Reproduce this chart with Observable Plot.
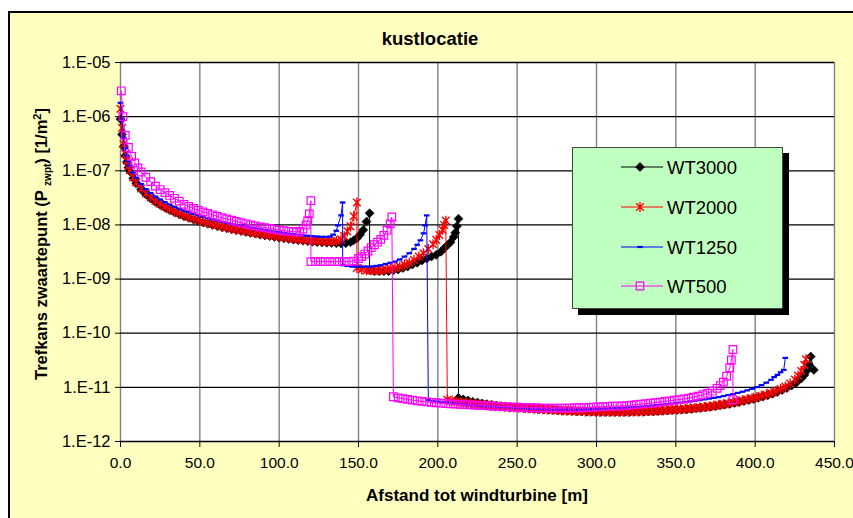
<!DOCTYPE html>
<html><head><meta charset="utf-8">
<script src="https://cdn.jsdelivr.net/npm/d3@7"></script>
<script src="https://cdn.jsdelivr.net/npm/@observablehq/plot@0.6"></script>
<style>
body{margin:0;background:#fff;}
#wrap{position:relative;width:853px;height:518px;overflow:hidden;font-family:'Liberation Sans',Arial,sans-serif;}
#bg{position:absolute;left:8px;top:11px;width:900px;height:600px;background:#FFFFC0;border:2px solid #000;}
#chart{position:absolute;left:0;top:0;}
#title{position:absolute;left:0;width:860px;top:29px;text-align:center;font-weight:bold;font-size:18.5px;line-height:20px;}
#legend{position:absolute;left:572px;top:147px;width:209px;height:160px;background:#BFFFBF;border:1px solid #444;box-shadow:6px 6px 0 #000;}
</style></head><body>
<div id="wrap"><div id="bg"></div><div id="chart"></div><div id="title">kustlocatie</div><div id="legend"></div></div>
<script>
// ---- data (x in m; segment 1 & 2 values in 1e-9 /m², segment 3 values in 1e-12 /m²) ----
const seriesNames = ["WT3000", "WT2000", "WT1250", "WT500"];
const seriesColors = ["#000000", "#FF0000", "#0000FF", "#FF00FF"];
const xTicks = [0, 50, 100, 150, 200, 250, 300, 350, 400, 450];
const yTicks = [1e-12, 1e-11, 1e-10, 1e-9, 1e-8, 1e-7, 1e-6, 1e-5];

const WT3000_s1 = [[0,900],[1,470],[2,280],[3,190],[4,145],[5,115],[6,97],[8,73],[10,58],[13,45],[16,36.5],[19,30.7],[22,26.5],[25,23.3],[28,20.8],[31,18.8],[34,17.1],[37,15.7],[40,14.5],[43,13.5],[46,12.6],[49,11.8],[52,11.1],[55,10.5],[58,10],[61,9.5],[64,9.1],[67,8.7],[70,8.3],[73,8],[76,7.7],[79,7.4],[82,7.1],[85,6.9],[88,6.6],[91,6.4],[94,6.2],[97,6.0],[100,5.8],[103,5.65],[106,5.5],[109,5.35],[112,5.2],[115,5.1],[118,5.0],[121,4.9],[124,4.8],[127,4.75],[130,4.7],[133,4.65],[136,4.6],[139,4.55],[142,4.6],[145,4.8],[147,5.2],[149,5.7],[151,6.6],[153,8.1],[155,11.5],[157,16.5]];
const WT3000_s2 = [[157,1.45],[160,1.4],[163,1.4],[166,1.4],[169,1.4],[172,1.45],[175,1.5],[178,1.6],[181,1.7],[184,1.85],[187,2.0],[190,2.2],[193,2.4],[196,2.6],[199,2.8],[202,3.2],[204,3.7],[206,4.2],[208,4.8],[210,6],[211,7.2],[212,9.5],[213,13]];
const WT3000_s3 = [[213,6.4],[216,6.0],[219,5.7],[222,5.45],[225,5.25],[228,5.05],[231,4.9],[234,4.75],[237,4.6],[240,4.5],[243,4.4],[246,4.3],[249,4.25],[252,4.2],[255,4.1],[258,4.05],[261,4.0],[264,3.95],[267,3.9],[270,3.85],[273,3.8],[276,3.75],[279,3.7],[282,3.7],[285,3.65],[288,3.6],[291,3.6],[294,3.55],[297,3.55],[300,3.5],[303,3.5],[306,3.5],[309,3.5],[312,3.5],[315,3.5],[318,3.5],[321,3.5],[324,3.55],[327,3.55],[330,3.55],[333,3.6],[336,3.6],[339,3.65],[342,3.7],[345,3.75],[348,3.8],[351,3.85],[354,3.9],[357,3.95],[360,4.0],[363,4.1],[366,4.2],[369,4.3],[372,4.4],[375,4.5],[378,4.65],[381,4.8],[384,4.95],[387,5.15],[390,5.35],[393,5.6],[396,5.85],[399,6.1],[402,6.4],[405,6.75],[408,7.15],[411,7.6],[414,8.2],[417,8.9],[420,9.7],[423,10.8],[426,12.3],[429,14.5],[431,17],[433,21],[434,26],[435,37],[437,21]];

const WT2000_s1 = [[0,1400],[1,620],[2,310],[3,205],[4,155],[5,122],[6,102],[8,76],[10,61],[13,47],[16,38],[19,32],[22,27.6],[25,24.3],[28,21.7],[31,19.6],[34,17.9],[37,16.4],[40,15.2],[43,14.1],[46,13.2],[49,12.4],[52,11.6],[55,11],[58,10.4],[61,9.9],[64,9.4],[67,9.0],[70,8.6],[73,8.3],[76,8.0],[79,7.7],[82,7.4],[85,7.15],[88,6.9],[91,6.7],[94,6.5],[97,6.3],[100,6.1],[103,5.95],[106,5.8],[109,5.65],[112,5.5],[115,5.4],[118,5.3],[121,5.2],[124,5.1],[127,5.05],[130,5.0],[133,5.0],[136,5.05],[139,5.4],[141,6.2],[143,7.6],[145,9.4],[147,14.5],[149,26]];
const WT2000_s2 = [[149,1.6],[152,1.5],[155,1.45],[158,1.45],[161,1.45],[164,1.45],[167,1.5],[170,1.55],[173,1.6],[176,1.7],[179,1.85],[182,2.0],[185,2.25],[188,2.6],[191,3.0],[194,3.6],[197,4.4],[199,5.3],[201,6.5],[203,8.1],[204,10],[205,12]];
const WT2000_s3 = [[206,5.9],[209,5.65],[212,5.45],[215,5.3],[218,5.15],[221,5.0],[224,4.9],[227,4.8],[230,4.7],[233,4.6],[236,4.5],[239,4.45],[242,4.4],[245,4.3],[248,4.25],[251,4.2],[254,4.15],[257,4.1],[260,4.05],[263,4.0],[266,3.95],[269,3.9],[272,3.85],[275,3.8],[278,3.75],[281,3.7],[284,3.7],[287,3.65],[290,3.65],[293,3.6],[296,3.6],[299,3.6],[302,3.55],[305,3.55],[308,3.55],[311,3.55],[314,3.55],[317,3.55],[320,3.55],[323,3.6],[326,3.6],[329,3.6],[332,3.65],[335,3.65],[338,3.7],[341,3.75],[344,3.8],[347,3.85],[350,3.9],[353,3.95],[356,4.0],[359,4.1],[362,4.15],[365,4.25],[368,4.35],[371,4.45],[374,4.6],[377,4.75],[380,4.9],[383,5.1],[386,5.3],[389,5.5],[392,5.75],[395,6.0],[398,6.3],[401,6.6],[404,7.0],[407,7.4],[410,7.9],[413,8.5],[416,9.3],[419,10.3],[422,11.8],[425,14],[427,16.5],[429,20],[431,26],[432,33]];

const WT1250_s1 = [[0,1800],[1,850],[2,410],[3,260],[4,190],[5,150],[6,125],[8,93],[10,74],[13,57],[16,46],[19,39],[22,33.5],[25,29.5],[28,26.3],[31,23.8],[34,21.6],[37,19.9],[40,18.4],[43,17.1],[46,16],[49,15],[52,14.1],[55,13.3],[58,12.6],[61,12],[64,11.4],[67,10.9],[70,10.4],[73,10],[76,9.6],[79,9.2],[82,8.9],[85,8.6],[88,8.3],[91,8.0],[94,7.8],[97,7.5],[100,7.3],[103,7.1],[106,6.9],[109,6.7],[112,6.55],[115,6.4],[118,6.3],[121,6.2],[124,6.1],[127,6.05],[130,6.0],[132,6.1],[134,6.6],[136,7.8],[137,9.8],[139,15],[140,26]];
const WT1250_s2 = [[140,1.8],[143,1.75],[146,1.7],[149,1.7],[152,1.7],[155,1.7],[158,1.7],[161,1.75],[164,1.8],[167,1.9],[170,2.0],[173,2.1],[176,2.3],[179,2.6],[182,3.0],[185,3.6],[187,4.3],[189,5.2],[191,7],[192,9.8],[193,15]];
const WT1250_s3 = [[194,5.8],[197,5.6],[200,5.45],[203,5.3],[206,5.2],[209,5.1],[212,5.0],[215,4.9],[218,4.8],[221,4.7],[224,4.6],[227,4.55],[230,4.5],[233,4.45],[236,4.4],[239,4.35],[242,4.3],[245,4.25],[248,4.2],[251,4.15],[254,4.1],[257,4.05],[260,4.0],[263,4.0],[266,3.95],[269,3.95],[272,3.9],[275,3.9],[278,3.9],[281,3.9],[284,3.9],[287,3.9],[290,3.9],[293,3.9],[296,3.95],[299,3.95],[302,4.0],[305,4.0],[308,4.05],[311,4.1],[314,4.15],[317,4.2],[320,4.25],[323,4.3],[326,4.35],[329,4.4],[332,4.5],[335,4.6],[338,4.7],[341,4.8],[344,4.9],[347,5.0],[350,5.1],[353,5.2],[356,5.35],[359,5.5],[362,5.65],[365,5.8],[368,6.0],[371,6.2],[374,6.4],[377,6.6],[380,6.9],[383,7.2],[386,7.5],[389,7.9],[392,8.3],[395,8.8],[398,9.4],[401,10.1],[404,11],[407,12.2],[410,13.8],[412,15.5],[414,17],[416,19],[418,21],[419,35]];

const WT500_s1 = [[0.5,3000],[1.5,1000],[3,450],[5,270],[7,185],[9,140],[11,113],[13,95],[16,76],[19,63],[22,52],[25,45],[28,39.5],[31,35],[34,31],[37,27.5],[40,24],[43,22],[46,20.2],[49,18.7],[52,17.4],[55,16.3],[58,15.3],[61,14.4],[64,13.6],[67,12.9],[70,12.2],[73,11.6],[76,11],[79,10.5],[82,10],[85,9.6],[88,9.2],[91,8.9],[94,8.6],[97,8.3],[100,8.0],[103,7.8],[106,7.6],[109,7.5],[111,7.4],[113,7.6],[115,8.4],[117,10],[118,12],[119,16],[120,28]];
const WT500_s2 = [[120,2.1],[123,2.1],[126,2.1],[129,2.1],[132,2.1],[135,2.1],[138,2.1],[141,2.1],[144,2.1],[147,2.15],[150,2.4],[152,2.6],[154,2.9],[156,3.3],[158,3.8],[160,4.3],[162,4.8],[164,5.4],[166,6.4],[168,8],[170,10.5],[171,14]];
const WT500_s3 = [[172,6.7],[175,6.4],[178,6.2],[181,6.0],[184,5.8],[187,5.65],[190,5.5],[193,5.4],[196,5.3],[199,5.2],[202,5.1],[205,5.0],[208,4.95],[211,4.9],[214,4.85],[217,4.8],[220,4.75],[223,4.7],[226,4.65],[229,4.6],[232,4.55],[235,4.5],[238,4.45],[241,4.4],[244,4.35],[247,4.3],[250,4.3],[253,4.25],[256,4.2],[259,4.2],[262,4.2],[265,4.15],[268,4.15],[271,4.15],[274,4.15],[277,4.15],[280,4.15],[283,4.15],[286,4.2],[289,4.2],[292,4.2],[295,4.25],[298,4.3],[301,4.35],[304,4.4],[307,4.45],[310,4.5],[313,4.5],[316,4.55],[319,4.6],[322,4.7],[325,4.8],[328,4.9],[331,5.0],[334,5.1],[337,5.2],[340,5.35],[343,5.5],[346,5.65],[349,5.8],[352,5.95],[355,6.1],[358,6.3],[361,6.6],[364,6.9],[367,7.3],[370,7.8],[373,8.5],[376,9.6],[378,10.8],[380,12.5],[382,16],[384,23],[385,32],[386,50],[386,5.9]];

const segments = {
  WT3000: [WT3000_s1, WT3000_s2, WT3000_s3],
  WT2000: [WT2000_s1, WT2000_s2, WT2000_s3],
  WT1250: [WT1250_s1, WT1250_s2, WT1250_s3],
  WT500:  [WT500_s1, WT500_s2, WT500_s3]
};
const segUnits = [1e-9, 1e-9, 1e-12];

function rowsOf(name) {
  const out = [];
  segments[name].forEach((seg, k) => seg.forEach(([x, v]) => out.push({x, y: v * segUnits[k]})));
  return out;
}

// ---- marker symbols (Excel-like) ----
const diamondSym = {draw(c){c.moveTo(0,-4.5);c.lineTo(4.5,0);c.lineTo(0,4.5);c.lineTo(-4.5,0);c.closePath();}};
const starSym = {draw(c){c.moveTo(-3.8,-3.8);c.lineTo(3.8,3.8);c.moveTo(-3.8,3.8);c.lineTo(3.8,-3.8);c.moveTo(0,-5);c.lineTo(0,5);}};
const dashSym = {draw(c){c.moveTo(-2.8,0);c.lineTo(2.8,0);}};
const squareSym = {draw(c){c.rect(-3.8,-3.8,7.6,7.6);}};
const symStyles = [
  {symbol: diamondSym, fill: "#000", stroke: "#000", strokeWidth: 0.6},
  {symbol: starSym, fill: "none", stroke: "#FF0000", strokeWidth: 1.4},
  {symbol: dashSym, fill: "none", stroke: "#0000FF", strokeWidth: 2.2},
  {symbol: squareSym, fill: "none", stroke: "#FF00FF", strokeWidth: 1.2}
];

const yFmt = d => "1.E-" + String(-Math.round(Math.log10(d))).padStart(2, "0");

const seriesMarks = [];
seriesNames.forEach((name, i) => {
  const rows = rowsOf(name);
  seriesMarks.push(Plot.line(rows, {x: "x", y: "y", stroke: seriesColors[i], strokeWidth: 1}));
  seriesMarks.push(Plot.dot(rows, {x: "x", y: "y", r: 4, ...symStyles[i]}));
});

const chart = Plot.plot({
  width: 853, height: 518,
  marginLeft: 120, marginRight: 19, marginTop: 62, marginBottom: 77,
  style: {fontFamily: "'Liberation Sans', Arial, sans-serif", fontSize: "16px", color: "#000", background: "transparent", overflow: "visible"},
  x: {domain: [0, 450]},
  y: {type: "log", domain: [1e-12, 1e-5]},
  marks: [
    Plot.frame({fill: "white", stroke: "none"}),
    Plot.ruleX(xTicks, {stroke: "#808080", strokeWidth: 1.4}),
    Plot.ruleY(yTicks, {stroke: "#000", strokeWidth: 1.3}),
    Plot.axisX({ticks: xTicks, tickFormat: d => d.toFixed(1), tickSize: 6, tickPadding: 9, fontSize: 15.5, label: null}),
    Plot.axisY({ticks: yTicks, tickFormat: yFmt, tickSize: 5, tickPadding: 5, fontSize: 16.5, label: null}),
    ...seriesMarks
  ]
});
document.getElementById("chart").appendChild(chart);

const svg = d3.select(chart);
// x-axis title
svg.append("text").attr("x", 477).attr("y", 501).attr("text-anchor", "middle")
  .attr("font-weight", "bold").attr("font-size", 17).text("Afstand tot windturbine [m]");
// y-axis title with subscript / superscript
const yt = svg.append("text").attr("transform", "translate(47,244) rotate(-90)")
  .attr("text-anchor", "middle").attr("font-weight", "bold").attr("font-size", 16.5);
yt.append("tspan").text("Trefkans zwaartepunt (P ");
yt.append("tspan").attr("font-size", 10).attr("dy", 4).text("zwpt");
yt.append("tspan").attr("dy", -4).text(") [1/m");
yt.append("tspan").attr("font-size", 11).attr("dy", -6).text("2");
yt.append("tspan").attr("dy", 6).text("]");

// legend
const lg = d3.select("#legend").append("svg").attr("width", 209).attr("height", 160)
  .style("font-family", "'Liberation Sans', Arial, sans-serif");
const rowY = [19, 59, 99, 138];
seriesNames.forEach((name, i) => {
  const g = lg.append("g").attr("transform", `translate(0,${rowY[i]})`);
  g.append("line").attr("x1", 48).attr("x2", 90).attr("stroke", seriesColors[i]).attr("stroke-width", 1);
  const p = d3.path(); symStyles[i].symbol.draw(p);
  g.append("path").attr("transform", "translate(67,0)").attr("d", p.toString())
    .attr("fill", symStyles[i].fill).attr("stroke", symStyles[i].stroke).attr("stroke-width", symStyles[i].strokeWidth);
  g.append("text").attr("x", 94).attr("dy", "0.36em").attr("font-size", 18.5).text(name);
});
</script></body></html>
